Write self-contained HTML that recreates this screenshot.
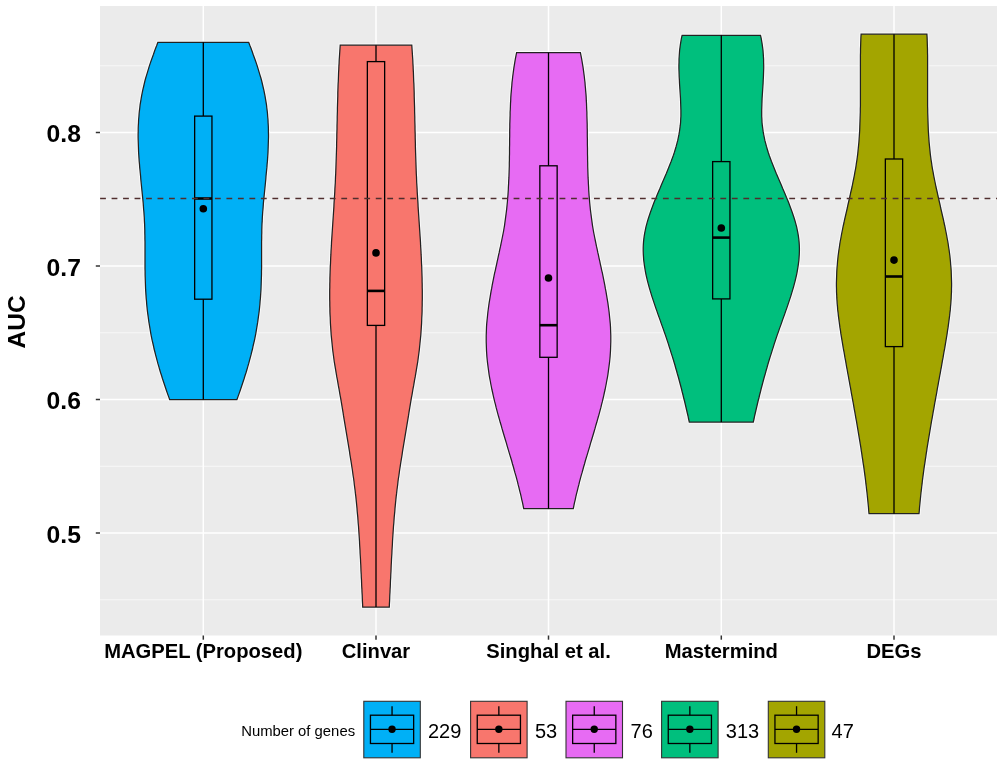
<!DOCTYPE html>
<html><head><meta charset="utf-8"><title>AUC violin plot</title>
<style>html,body{margin:0;padding:0;background:#fff}svg{display:block}text{font-family:"Liberation Sans",Arial,Helvetica,sans-serif;fill:#000}</style></head><body>
<svg width="1003" height="765" viewBox="0 0 1003 765">
<rect width="1003" height="765" fill="#fff"/>
<rect x="100" y="6" width="897" height="629.5" fill="#EBEBEB"/>
<line x1="100" x2="997" y1="65.75" y2="65.75" stroke="#fff" stroke-opacity=".8" stroke-width="0.8"/>
<line x1="100" x2="997" y1="199.25" y2="199.25" stroke="#fff" stroke-opacity=".8" stroke-width="0.8"/>
<line x1="100" x2="997" y1="332.75" y2="332.75" stroke="#fff" stroke-opacity=".8" stroke-width="0.8"/>
<line x1="100" x2="997" y1="466.25" y2="466.25" stroke="#fff" stroke-opacity=".8" stroke-width="0.8"/>
<line x1="100" x2="997" y1="599.75" y2="599.75" stroke="#fff" stroke-opacity=".8" stroke-width="0.8"/>
<line x1="100" x2="997" y1="132.50" y2="132.50" stroke="#fff" stroke-width="1.5"/>
<line x1="100" x2="997" y1="266.00" y2="266.00" stroke="#fff" stroke-width="1.5"/>
<line x1="100" x2="997" y1="399.50" y2="399.50" stroke="#fff" stroke-width="1.5"/>
<line x1="100" x2="997" y1="533.00" y2="533.00" stroke="#fff" stroke-width="1.5"/>
<line x1="203.3" x2="203.3" y1="6" y2="635.5" stroke="#fff" stroke-width="1.5"/>
<line x1="376" x2="376" y1="6" y2="635.5" stroke="#fff" stroke-width="1.5"/>
<line x1="548.5" x2="548.5" y1="6" y2="635.5" stroke="#fff" stroke-width="1.5"/>
<line x1="721.3" x2="721.3" y1="6" y2="635.5" stroke="#fff" stroke-width="1.5"/>
<line x1="894" x2="894" y1="6" y2="635.5" stroke="#fff" stroke-width="1.5"/>
<path d="M157.9,42.3 L156.8,45.3 L155.6,48.3 L154.5,51.2 L153.5,54.2 L152.4,57.2 L151.3,60.2 L150.3,63.1 L149.3,66.1 L148.4,69.1 L147.5,72.1 L146.6,75.1 L145.7,78.0 L144.9,81.0 L144.2,84.0 L143.5,87.0 L142.8,89.9 L142.2,92.9 L141.6,95.9 L141.1,98.9 L140.6,101.8 L140.1,104.8 L139.8,107.8 L139.4,110.8 L139.1,113.8 L138.9,116.7 L138.6,119.7 L138.5,122.7 L138.3,125.7 L138.2,128.6 L138.2,131.6 L138.1,134.6 L138.1,137.6 L138.2,140.6 L138.3,143.5 L138.4,146.5 L138.5,149.5 L138.6,152.5 L138.8,155.4 L139.0,158.4 L139.2,161.4 L139.5,164.4 L139.7,167.4 L140.0,170.3 L140.3,173.3 L140.6,176.3 L140.8,179.3 L141.1,182.2 L141.4,185.2 L141.7,188.2 L142.0,191.2 L142.3,194.2 L142.6,197.1 L142.9,200.1 L143.2,203.1 L143.4,206.1 L143.6,209.0 L143.9,212.0 L144.1,215.0 L144.3,218.0 L144.4,220.9 L144.6,223.9 L144.7,226.9 L144.8,229.9 L144.8,232.9 L144.9,235.8 L144.9,238.8 L145.0,241.8 L145.0,244.8 L145.0,247.7 L145.0,250.7 L145.0,253.7 L145.0,256.7 L145.0,259.7 L145.0,262.6 L145.0,265.6 L145.0,268.6 L145.1,271.6 L145.1,274.5 L145.2,277.5 L145.3,280.5 L145.4,283.5 L145.5,286.5 L145.6,289.4 L145.8,292.4 L146.0,295.4 L146.2,298.4 L146.5,301.3 L146.7,304.3 L147.0,307.3 L147.3,310.3 L147.7,313.3 L148.1,316.2 L148.5,319.2 L148.9,322.2 L149.4,325.2 L149.9,328.1 L150.4,331.1 L150.9,334.1 L151.5,337.1 L152.1,340.1 L152.8,343.0 L153.5,346.0 L154.1,349.0 L154.9,352.0 L155.6,354.9 L156.4,357.9 L157.2,360.9 L158.0,363.9 L158.9,366.8 L159.7,369.8 L160.6,372.8 L161.6,375.8 L162.5,378.8 L163.5,381.7 L164.5,384.7 L165.5,387.7 L166.5,390.7 L167.5,393.6 L168.6,396.6 L169.7,399.6 L236.9,399.6 L238.0,396.6 L239.1,393.6 L240.1,390.7 L241.1,387.7 L242.1,384.7 L243.1,381.7 L244.1,378.8 L245.0,375.8 L246.0,372.8 L246.9,369.8 L247.7,366.8 L248.6,363.9 L249.4,360.9 L250.2,357.9 L251.0,354.9 L251.7,352.0 L252.5,349.0 L253.1,346.0 L253.8,343.0 L254.5,340.1 L255.1,337.1 L255.7,334.1 L256.2,331.1 L256.7,328.1 L257.2,325.2 L257.7,322.2 L258.1,319.2 L258.5,316.2 L258.9,313.3 L259.3,310.3 L259.6,307.3 L259.9,304.3 L260.1,301.3 L260.4,298.4 L260.6,295.4 L260.8,292.4 L261.0,289.4 L261.1,286.5 L261.2,283.5 L261.3,280.5 L261.4,277.5 L261.5,274.5 L261.5,271.6 L261.6,268.6 L261.6,265.6 L261.6,262.6 L261.6,259.7 L261.6,256.7 L261.6,253.7 L261.6,250.7 L261.6,247.7 L261.6,244.8 L261.6,241.8 L261.7,238.8 L261.7,235.8 L261.8,232.9 L261.8,229.9 L261.9,226.9 L262.0,223.9 L262.2,220.9 L262.3,218.0 L262.5,215.0 L262.7,212.0 L263.0,209.0 L263.2,206.1 L263.4,203.1 L263.7,200.1 L264.0,197.1 L264.3,194.2 L264.6,191.2 L264.9,188.2 L265.2,185.2 L265.5,182.2 L265.8,179.3 L266.0,176.3 L266.3,173.3 L266.6,170.3 L266.9,167.4 L267.1,164.4 L267.4,161.4 L267.6,158.4 L267.8,155.4 L268.0,152.5 L268.1,149.5 L268.2,146.5 L268.3,143.5 L268.4,140.6 L268.5,137.6 L268.5,134.6 L268.4,131.6 L268.4,128.6 L268.3,125.7 L268.1,122.7 L268.0,119.7 L267.7,116.7 L267.5,113.8 L267.2,110.8 L266.8,107.8 L266.5,104.8 L266.0,101.8 L265.5,98.9 L265.0,95.9 L264.4,92.9 L263.8,89.9 L263.1,87.0 L262.4,84.0 L261.7,81.0 L260.9,78.0 L260.0,75.1 L259.1,72.1 L258.2,69.1 L257.3,66.1 L256.3,63.1 L255.3,60.2 L254.2,57.2 L253.1,54.2 L252.1,51.2 L251.0,48.3 L249.8,45.3 L248.7,42.3Z" fill="none" stroke="#fff" stroke-opacity=".75" stroke-width="3.2" stroke-linejoin="miter"/>
<path d="M157.9,42.3 L156.8,45.3 L155.6,48.3 L154.5,51.2 L153.5,54.2 L152.4,57.2 L151.3,60.2 L150.3,63.1 L149.3,66.1 L148.4,69.1 L147.5,72.1 L146.6,75.1 L145.7,78.0 L144.9,81.0 L144.2,84.0 L143.5,87.0 L142.8,89.9 L142.2,92.9 L141.6,95.9 L141.1,98.9 L140.6,101.8 L140.1,104.8 L139.8,107.8 L139.4,110.8 L139.1,113.8 L138.9,116.7 L138.6,119.7 L138.5,122.7 L138.3,125.7 L138.2,128.6 L138.2,131.6 L138.1,134.6 L138.1,137.6 L138.2,140.6 L138.3,143.5 L138.4,146.5 L138.5,149.5 L138.6,152.5 L138.8,155.4 L139.0,158.4 L139.2,161.4 L139.5,164.4 L139.7,167.4 L140.0,170.3 L140.3,173.3 L140.6,176.3 L140.8,179.3 L141.1,182.2 L141.4,185.2 L141.7,188.2 L142.0,191.2 L142.3,194.2 L142.6,197.1 L142.9,200.1 L143.2,203.1 L143.4,206.1 L143.6,209.0 L143.9,212.0 L144.1,215.0 L144.3,218.0 L144.4,220.9 L144.6,223.9 L144.7,226.9 L144.8,229.9 L144.8,232.9 L144.9,235.8 L144.9,238.8 L145.0,241.8 L145.0,244.8 L145.0,247.7 L145.0,250.7 L145.0,253.7 L145.0,256.7 L145.0,259.7 L145.0,262.6 L145.0,265.6 L145.0,268.6 L145.1,271.6 L145.1,274.5 L145.2,277.5 L145.3,280.5 L145.4,283.5 L145.5,286.5 L145.6,289.4 L145.8,292.4 L146.0,295.4 L146.2,298.4 L146.5,301.3 L146.7,304.3 L147.0,307.3 L147.3,310.3 L147.7,313.3 L148.1,316.2 L148.5,319.2 L148.9,322.2 L149.4,325.2 L149.9,328.1 L150.4,331.1 L150.9,334.1 L151.5,337.1 L152.1,340.1 L152.8,343.0 L153.5,346.0 L154.1,349.0 L154.9,352.0 L155.6,354.9 L156.4,357.9 L157.2,360.9 L158.0,363.9 L158.9,366.8 L159.7,369.8 L160.6,372.8 L161.6,375.8 L162.5,378.8 L163.5,381.7 L164.5,384.7 L165.5,387.7 L166.5,390.7 L167.5,393.6 L168.6,396.6 L169.7,399.6 L236.9,399.6 L238.0,396.6 L239.1,393.6 L240.1,390.7 L241.1,387.7 L242.1,384.7 L243.1,381.7 L244.1,378.8 L245.0,375.8 L246.0,372.8 L246.9,369.8 L247.7,366.8 L248.6,363.9 L249.4,360.9 L250.2,357.9 L251.0,354.9 L251.7,352.0 L252.5,349.0 L253.1,346.0 L253.8,343.0 L254.5,340.1 L255.1,337.1 L255.7,334.1 L256.2,331.1 L256.7,328.1 L257.2,325.2 L257.7,322.2 L258.1,319.2 L258.5,316.2 L258.9,313.3 L259.3,310.3 L259.6,307.3 L259.9,304.3 L260.1,301.3 L260.4,298.4 L260.6,295.4 L260.8,292.4 L261.0,289.4 L261.1,286.5 L261.2,283.5 L261.3,280.5 L261.4,277.5 L261.5,274.5 L261.5,271.6 L261.6,268.6 L261.6,265.6 L261.6,262.6 L261.6,259.7 L261.6,256.7 L261.6,253.7 L261.6,250.7 L261.6,247.7 L261.6,244.8 L261.6,241.8 L261.7,238.8 L261.7,235.8 L261.8,232.9 L261.8,229.9 L261.9,226.9 L262.0,223.9 L262.2,220.9 L262.3,218.0 L262.5,215.0 L262.7,212.0 L263.0,209.0 L263.2,206.1 L263.4,203.1 L263.7,200.1 L264.0,197.1 L264.3,194.2 L264.6,191.2 L264.9,188.2 L265.2,185.2 L265.5,182.2 L265.8,179.3 L266.0,176.3 L266.3,173.3 L266.6,170.3 L266.9,167.4 L267.1,164.4 L267.4,161.4 L267.6,158.4 L267.8,155.4 L268.0,152.5 L268.1,149.5 L268.2,146.5 L268.3,143.5 L268.4,140.6 L268.5,137.6 L268.5,134.6 L268.4,131.6 L268.4,128.6 L268.3,125.7 L268.1,122.7 L268.0,119.7 L267.7,116.7 L267.5,113.8 L267.2,110.8 L266.8,107.8 L266.5,104.8 L266.0,101.8 L265.5,98.9 L265.0,95.9 L264.4,92.9 L263.8,89.9 L263.1,87.0 L262.4,84.0 L261.7,81.0 L260.9,78.0 L260.0,75.1 L259.1,72.1 L258.2,69.1 L257.3,66.1 L256.3,63.1 L255.3,60.2 L254.2,57.2 L253.1,54.2 L252.1,51.2 L251.0,48.3 L249.8,45.3 L248.7,42.3Z" fill="#00B0F6" stroke="#222" stroke-width="1.25" stroke-linejoin="miter"/>
<path d="M340.2,45.2 L340.0,48.2 L339.8,51.2 L339.6,54.2 L339.4,57.2 L339.2,60.1 L339.1,63.1 L338.9,66.1 L338.8,69.1 L338.6,72.1 L338.5,75.1 L338.4,78.1 L338.3,81.1 L338.1,84.0 L338.0,87.0 L337.9,90.0 L337.8,93.0 L337.8,96.0 L337.7,99.0 L337.6,102.0 L337.5,105.0 L337.4,108.0 L337.4,110.9 L337.3,113.9 L337.2,116.9 L337.2,119.9 L337.1,122.9 L337.0,125.9 L337.0,128.9 L336.9,131.9 L336.8,134.8 L336.8,137.8 L336.7,140.8 L336.6,143.8 L336.6,146.8 L336.5,149.8 L336.4,152.8 L336.3,155.8 L336.2,158.8 L336.1,161.7 L336.0,164.7 L335.9,167.7 L335.8,170.7 L335.7,173.7 L335.5,176.7 L335.4,179.7 L335.3,182.7 L335.1,185.6 L334.9,188.6 L334.8,191.6 L334.6,194.6 L334.4,197.6 L334.2,200.6 L334.0,203.6 L333.9,206.6 L333.7,209.6 L333.5,212.5 L333.3,215.5 L333.1,218.5 L332.9,221.5 L332.7,224.5 L332.5,227.5 L332.3,230.5 L332.1,233.5 L331.9,236.5 L331.7,239.4 L331.5,242.4 L331.4,245.4 L331.2,248.4 L331.0,251.4 L330.9,254.4 L330.7,257.4 L330.6,260.4 L330.5,263.3 L330.3,266.3 L330.2,269.3 L330.1,272.3 L330.0,275.3 L329.9,278.3 L329.9,281.3 L329.8,284.3 L329.8,287.3 L329.7,290.2 L329.7,293.2 L329.7,296.2 L329.7,299.2 L329.8,302.2 L329.8,305.2 L329.9,308.2 L329.9,311.2 L330.0,314.1 L330.2,317.1 L330.3,320.1 L330.4,323.1 L330.6,326.1 L330.8,329.1 L331.0,332.1 L331.2,335.1 L331.5,338.1 L331.8,341.0 L332.1,344.0 L332.4,347.0 L332.7,350.0 L333.1,353.0 L333.5,356.0 L333.9,359.0 L334.3,362.0 L334.8,364.9 L335.3,367.9 L335.8,370.9 L336.3,373.9 L336.8,376.9 L337.4,379.9 L337.9,382.9 L338.4,385.9 L339.0,388.9 L339.5,391.8 L340.0,394.8 L340.6,397.8 L341.1,400.8 L341.6,403.8 L342.1,406.8 L342.6,409.8 L343.1,412.8 L343.5,415.7 L344.0,418.7 L344.5,421.7 L345.0,424.7 L345.5,427.7 L346.0,430.7 L346.5,433.7 L347.0,436.7 L347.5,439.7 L348.0,442.6 L348.5,445.6 L349.0,448.6 L349.5,451.6 L349.9,454.6 L350.4,457.6 L350.9,460.6 L351.4,463.6 L351.8,466.5 L352.3,469.5 L352.7,472.5 L353.1,475.5 L353.6,478.5 L354.0,481.5 L354.3,484.5 L354.7,487.5 L355.1,490.5 L355.4,493.4 L355.8,496.4 L356.1,499.4 L356.4,502.4 L356.7,505.4 L357.0,508.4 L357.2,511.4 L357.5,514.4 L357.8,517.4 L358.0,520.3 L358.2,523.3 L358.5,526.3 L358.7,529.3 L358.9,532.3 L359.1,535.3 L359.3,538.3 L359.5,541.3 L359.6,544.2 L359.8,547.2 L360.0,550.2 L360.1,553.2 L360.3,556.2 L360.5,559.2 L360.6,562.2 L360.8,565.2 L360.9,568.2 L361.0,571.1 L361.2,574.1 L361.3,577.1 L361.5,580.1 L361.6,583.1 L361.7,586.1 L361.9,589.1 L362.0,592.1 L362.2,595.0 L362.3,598.0 L362.4,601.0 L362.6,604.0 L362.7,607.0 L389.3,607.0 L389.4,604.0 L389.6,601.0 L389.7,598.0 L389.8,595.0 L390.0,592.1 L390.1,589.1 L390.3,586.1 L390.4,583.1 L390.5,580.1 L390.7,577.1 L390.8,574.1 L391.0,571.1 L391.1,568.2 L391.2,565.2 L391.4,562.2 L391.5,559.2 L391.7,556.2 L391.9,553.2 L392.0,550.2 L392.2,547.2 L392.4,544.2 L392.5,541.3 L392.7,538.3 L392.9,535.3 L393.1,532.3 L393.3,529.3 L393.5,526.3 L393.8,523.3 L394.0,520.3 L394.2,517.4 L394.5,514.4 L394.8,511.4 L395.0,508.4 L395.3,505.4 L395.6,502.4 L395.9,499.4 L396.2,496.4 L396.6,493.4 L396.9,490.5 L397.3,487.5 L397.7,484.5 L398.0,481.5 L398.4,478.5 L398.9,475.5 L399.3,472.5 L399.7,469.5 L400.2,466.5 L400.6,463.6 L401.1,460.6 L401.6,457.6 L402.1,454.6 L402.5,451.6 L403.0,448.6 L403.5,445.6 L404.0,442.6 L404.5,439.7 L405.0,436.7 L405.5,433.7 L406.0,430.7 L406.5,427.7 L407.0,424.7 L407.5,421.7 L408.0,418.7 L408.5,415.7 L408.9,412.8 L409.4,409.8 L409.9,406.8 L410.4,403.8 L410.9,400.8 L411.4,397.8 L412.0,394.8 L412.5,391.8 L413.0,388.9 L413.6,385.9 L414.1,382.9 L414.6,379.9 L415.2,376.9 L415.7,373.9 L416.2,370.9 L416.7,367.9 L417.2,364.9 L417.7,362.0 L418.1,359.0 L418.5,356.0 L418.9,353.0 L419.3,350.0 L419.6,347.0 L419.9,344.0 L420.2,341.0 L420.5,338.1 L420.8,335.1 L421.0,332.1 L421.2,329.1 L421.4,326.1 L421.6,323.1 L421.7,320.1 L421.8,317.1 L422.0,314.1 L422.1,311.2 L422.1,308.2 L422.2,305.2 L422.2,302.2 L422.3,299.2 L422.3,296.2 L422.3,293.2 L422.3,290.2 L422.2,287.3 L422.2,284.3 L422.1,281.3 L422.1,278.3 L422.0,275.3 L421.9,272.3 L421.8,269.3 L421.7,266.3 L421.5,263.3 L421.4,260.4 L421.3,257.4 L421.1,254.4 L421.0,251.4 L420.8,248.4 L420.6,245.4 L420.5,242.4 L420.3,239.4 L420.1,236.5 L419.9,233.5 L419.7,230.5 L419.5,227.5 L419.3,224.5 L419.1,221.5 L418.9,218.5 L418.7,215.5 L418.5,212.5 L418.3,209.6 L418.1,206.6 L418.0,203.6 L417.8,200.6 L417.6,197.6 L417.4,194.6 L417.2,191.6 L417.1,188.6 L416.9,185.6 L416.7,182.7 L416.6,179.7 L416.5,176.7 L416.3,173.7 L416.2,170.7 L416.1,167.7 L416.0,164.7 L415.9,161.7 L415.8,158.8 L415.7,155.8 L415.6,152.8 L415.5,149.8 L415.4,146.8 L415.4,143.8 L415.3,140.8 L415.2,137.8 L415.2,134.8 L415.1,131.9 L415.0,128.9 L415.0,125.9 L414.9,122.9 L414.8,119.9 L414.8,116.9 L414.7,113.9 L414.6,110.9 L414.6,108.0 L414.5,105.0 L414.4,102.0 L414.3,99.0 L414.2,96.0 L414.2,93.0 L414.1,90.0 L414.0,87.0 L413.9,84.0 L413.7,81.1 L413.6,78.1 L413.5,75.1 L413.4,72.1 L413.2,69.1 L413.1,66.1 L412.9,63.1 L412.8,60.1 L412.6,57.2 L412.4,54.2 L412.2,51.2 L412.0,48.2 L411.8,45.2Z" fill="none" stroke="#fff" stroke-opacity=".75" stroke-width="3.2" stroke-linejoin="miter"/>
<path d="M340.2,45.2 L340.0,48.2 L339.8,51.2 L339.6,54.2 L339.4,57.2 L339.2,60.1 L339.1,63.1 L338.9,66.1 L338.8,69.1 L338.6,72.1 L338.5,75.1 L338.4,78.1 L338.3,81.1 L338.1,84.0 L338.0,87.0 L337.9,90.0 L337.8,93.0 L337.8,96.0 L337.7,99.0 L337.6,102.0 L337.5,105.0 L337.4,108.0 L337.4,110.9 L337.3,113.9 L337.2,116.9 L337.2,119.9 L337.1,122.9 L337.0,125.9 L337.0,128.9 L336.9,131.9 L336.8,134.8 L336.8,137.8 L336.7,140.8 L336.6,143.8 L336.6,146.8 L336.5,149.8 L336.4,152.8 L336.3,155.8 L336.2,158.8 L336.1,161.7 L336.0,164.7 L335.9,167.7 L335.8,170.7 L335.7,173.7 L335.5,176.7 L335.4,179.7 L335.3,182.7 L335.1,185.6 L334.9,188.6 L334.8,191.6 L334.6,194.6 L334.4,197.6 L334.2,200.6 L334.0,203.6 L333.9,206.6 L333.7,209.6 L333.5,212.5 L333.3,215.5 L333.1,218.5 L332.9,221.5 L332.7,224.5 L332.5,227.5 L332.3,230.5 L332.1,233.5 L331.9,236.5 L331.7,239.4 L331.5,242.4 L331.4,245.4 L331.2,248.4 L331.0,251.4 L330.9,254.4 L330.7,257.4 L330.6,260.4 L330.5,263.3 L330.3,266.3 L330.2,269.3 L330.1,272.3 L330.0,275.3 L329.9,278.3 L329.9,281.3 L329.8,284.3 L329.8,287.3 L329.7,290.2 L329.7,293.2 L329.7,296.2 L329.7,299.2 L329.8,302.2 L329.8,305.2 L329.9,308.2 L329.9,311.2 L330.0,314.1 L330.2,317.1 L330.3,320.1 L330.4,323.1 L330.6,326.1 L330.8,329.1 L331.0,332.1 L331.2,335.1 L331.5,338.1 L331.8,341.0 L332.1,344.0 L332.4,347.0 L332.7,350.0 L333.1,353.0 L333.5,356.0 L333.9,359.0 L334.3,362.0 L334.8,364.9 L335.3,367.9 L335.8,370.9 L336.3,373.9 L336.8,376.9 L337.4,379.9 L337.9,382.9 L338.4,385.9 L339.0,388.9 L339.5,391.8 L340.0,394.8 L340.6,397.8 L341.1,400.8 L341.6,403.8 L342.1,406.8 L342.6,409.8 L343.1,412.8 L343.5,415.7 L344.0,418.7 L344.5,421.7 L345.0,424.7 L345.5,427.7 L346.0,430.7 L346.5,433.7 L347.0,436.7 L347.5,439.7 L348.0,442.6 L348.5,445.6 L349.0,448.6 L349.5,451.6 L349.9,454.6 L350.4,457.6 L350.9,460.6 L351.4,463.6 L351.8,466.5 L352.3,469.5 L352.7,472.5 L353.1,475.5 L353.6,478.5 L354.0,481.5 L354.3,484.5 L354.7,487.5 L355.1,490.5 L355.4,493.4 L355.8,496.4 L356.1,499.4 L356.4,502.4 L356.7,505.4 L357.0,508.4 L357.2,511.4 L357.5,514.4 L357.8,517.4 L358.0,520.3 L358.2,523.3 L358.5,526.3 L358.7,529.3 L358.9,532.3 L359.1,535.3 L359.3,538.3 L359.5,541.3 L359.6,544.2 L359.8,547.2 L360.0,550.2 L360.1,553.2 L360.3,556.2 L360.5,559.2 L360.6,562.2 L360.8,565.2 L360.9,568.2 L361.0,571.1 L361.2,574.1 L361.3,577.1 L361.5,580.1 L361.6,583.1 L361.7,586.1 L361.9,589.1 L362.0,592.1 L362.2,595.0 L362.3,598.0 L362.4,601.0 L362.6,604.0 L362.7,607.0 L389.3,607.0 L389.4,604.0 L389.6,601.0 L389.7,598.0 L389.8,595.0 L390.0,592.1 L390.1,589.1 L390.3,586.1 L390.4,583.1 L390.5,580.1 L390.7,577.1 L390.8,574.1 L391.0,571.1 L391.1,568.2 L391.2,565.2 L391.4,562.2 L391.5,559.2 L391.7,556.2 L391.9,553.2 L392.0,550.2 L392.2,547.2 L392.4,544.2 L392.5,541.3 L392.7,538.3 L392.9,535.3 L393.1,532.3 L393.3,529.3 L393.5,526.3 L393.8,523.3 L394.0,520.3 L394.2,517.4 L394.5,514.4 L394.8,511.4 L395.0,508.4 L395.3,505.4 L395.6,502.4 L395.9,499.4 L396.2,496.4 L396.6,493.4 L396.9,490.5 L397.3,487.5 L397.7,484.5 L398.0,481.5 L398.4,478.5 L398.9,475.5 L399.3,472.5 L399.7,469.5 L400.2,466.5 L400.6,463.6 L401.1,460.6 L401.6,457.6 L402.1,454.6 L402.5,451.6 L403.0,448.6 L403.5,445.6 L404.0,442.6 L404.5,439.7 L405.0,436.7 L405.5,433.7 L406.0,430.7 L406.5,427.7 L407.0,424.7 L407.5,421.7 L408.0,418.7 L408.5,415.7 L408.9,412.8 L409.4,409.8 L409.9,406.8 L410.4,403.8 L410.9,400.8 L411.4,397.8 L412.0,394.8 L412.5,391.8 L413.0,388.9 L413.6,385.9 L414.1,382.9 L414.6,379.9 L415.2,376.9 L415.7,373.9 L416.2,370.9 L416.7,367.9 L417.2,364.9 L417.7,362.0 L418.1,359.0 L418.5,356.0 L418.9,353.0 L419.3,350.0 L419.6,347.0 L419.9,344.0 L420.2,341.0 L420.5,338.1 L420.8,335.1 L421.0,332.1 L421.2,329.1 L421.4,326.1 L421.6,323.1 L421.7,320.1 L421.8,317.1 L422.0,314.1 L422.1,311.2 L422.1,308.2 L422.2,305.2 L422.2,302.2 L422.3,299.2 L422.3,296.2 L422.3,293.2 L422.3,290.2 L422.2,287.3 L422.2,284.3 L422.1,281.3 L422.1,278.3 L422.0,275.3 L421.9,272.3 L421.8,269.3 L421.7,266.3 L421.5,263.3 L421.4,260.4 L421.3,257.4 L421.1,254.4 L421.0,251.4 L420.8,248.4 L420.6,245.4 L420.5,242.4 L420.3,239.4 L420.1,236.5 L419.9,233.5 L419.7,230.5 L419.5,227.5 L419.3,224.5 L419.1,221.5 L418.9,218.5 L418.7,215.5 L418.5,212.5 L418.3,209.6 L418.1,206.6 L418.0,203.6 L417.8,200.6 L417.6,197.6 L417.4,194.6 L417.2,191.6 L417.1,188.6 L416.9,185.6 L416.7,182.7 L416.6,179.7 L416.5,176.7 L416.3,173.7 L416.2,170.7 L416.1,167.7 L416.0,164.7 L415.9,161.7 L415.8,158.8 L415.7,155.8 L415.6,152.8 L415.5,149.8 L415.4,146.8 L415.4,143.8 L415.3,140.8 L415.2,137.8 L415.2,134.8 L415.1,131.9 L415.0,128.9 L415.0,125.9 L414.9,122.9 L414.8,119.9 L414.8,116.9 L414.7,113.9 L414.6,110.9 L414.6,108.0 L414.5,105.0 L414.4,102.0 L414.3,99.0 L414.2,96.0 L414.2,93.0 L414.1,90.0 L414.0,87.0 L413.9,84.0 L413.7,81.1 L413.6,78.1 L413.5,75.1 L413.4,72.1 L413.2,69.1 L413.1,66.1 L412.9,63.1 L412.8,60.1 L412.6,57.2 L412.4,54.2 L412.2,51.2 L412.0,48.2 L411.8,45.2Z" fill="#F8766D" stroke="#222" stroke-width="1.25" stroke-linejoin="miter"/>
<path d="M516.6,52.7 L516.0,55.7 L515.4,58.7 L514.9,61.6 L514.4,64.6 L513.9,67.6 L513.5,70.6 L513.1,73.6 L512.7,76.5 L512.4,79.5 L512.0,82.5 L511.8,85.5 L511.5,88.5 L511.3,91.4 L511.0,94.4 L510.8,97.4 L510.7,100.4 L510.5,103.4 L510.4,106.3 L510.3,109.3 L510.1,112.3 L510.1,115.3 L510.0,118.3 L509.9,121.2 L509.8,124.2 L509.8,127.2 L509.7,130.2 L509.7,133.2 L509.7,136.2 L509.6,139.1 L509.6,142.1 L509.6,145.1 L509.5,148.1 L509.5,151.1 L509.5,154.0 L509.4,157.0 L509.4,160.0 L509.3,163.0 L509.3,166.0 L509.2,168.9 L509.1,171.9 L509.0,174.9 L508.9,177.9 L508.7,180.9 L508.6,183.8 L508.4,186.8 L508.3,189.8 L508.1,192.8 L507.9,195.8 L507.6,198.7 L507.4,201.7 L507.1,204.7 L506.8,207.7 L506.5,210.7 L506.1,213.6 L505.7,216.6 L505.3,219.6 L504.9,222.6 L504.5,225.6 L504.0,228.5 L503.5,231.5 L502.9,234.5 L502.3,237.5 L501.7,240.5 L501.1,243.4 L500.5,246.4 L499.8,249.4 L499.2,252.4 L498.5,255.4 L497.9,258.3 L497.2,261.3 L496.6,264.3 L495.9,267.3 L495.3,270.3 L494.6,273.2 L494.0,276.2 L493.4,279.2 L492.8,282.2 L492.2,285.2 L491.7,288.2 L491.1,291.1 L490.6,294.1 L490.1,297.1 L489.6,300.1 L489.1,303.1 L488.7,306.0 L488.3,309.0 L487.9,312.0 L487.6,315.0 L487.3,318.0 L487.0,320.9 L486.7,323.9 L486.5,326.9 L486.4,329.9 L486.3,332.9 L486.2,335.8 L486.2,338.8 L486.2,341.8 L486.3,344.8 L486.4,347.8 L486.5,350.7 L486.7,353.7 L486.9,356.7 L487.2,359.7 L487.5,362.7 L487.9,365.6 L488.3,368.6 L488.7,371.6 L489.1,374.6 L489.6,377.6 L490.2,380.5 L490.7,383.5 L491.3,386.5 L491.9,389.5 L492.6,392.5 L493.2,395.4 L493.9,398.4 L494.6,401.4 L495.4,404.4 L496.1,407.4 L496.9,410.3 L497.7,413.3 L498.5,416.3 L499.4,419.3 L500.2,422.3 L501.1,425.2 L501.9,428.2 L502.8,431.2 L503.7,434.2 L504.6,437.2 L505.5,440.2 L506.4,443.1 L507.2,446.1 L508.1,449.1 L509.0,452.1 L509.9,455.1 L510.8,458.0 L511.7,461.0 L512.5,464.0 L513.4,467.0 L514.2,470.0 L515.0,472.9 L515.9,475.9 L516.7,478.9 L517.5,481.9 L518.2,484.9 L519.0,487.8 L519.7,490.8 L520.5,493.8 L521.2,496.8 L521.8,499.8 L522.5,502.7 L523.1,505.7 L523.7,508.7 L573.3,508.7 L573.9,505.7 L574.5,502.7 L575.2,499.8 L575.8,496.8 L576.5,493.8 L577.3,490.8 L578.0,487.8 L578.8,484.9 L579.5,481.9 L580.3,478.9 L581.1,475.9 L582.0,472.9 L582.8,470.0 L583.6,467.0 L584.5,464.0 L585.3,461.0 L586.2,458.0 L587.1,455.1 L588.0,452.1 L588.9,449.1 L589.8,446.1 L590.6,443.1 L591.5,440.2 L592.4,437.2 L593.3,434.2 L594.2,431.2 L595.1,428.2 L595.9,425.2 L596.8,422.3 L597.6,419.3 L598.5,416.3 L599.3,413.3 L600.1,410.3 L600.9,407.4 L601.6,404.4 L602.4,401.4 L603.1,398.4 L603.8,395.4 L604.4,392.5 L605.1,389.5 L605.7,386.5 L606.3,383.5 L606.8,380.5 L607.4,377.6 L607.9,374.6 L608.3,371.6 L608.7,368.6 L609.1,365.6 L609.5,362.7 L609.8,359.7 L610.1,356.7 L610.3,353.7 L610.5,350.7 L610.6,347.8 L610.7,344.8 L610.8,341.8 L610.8,338.8 L610.8,335.8 L610.7,332.9 L610.6,329.9 L610.5,326.9 L610.3,323.9 L610.0,320.9 L609.7,318.0 L609.4,315.0 L609.1,312.0 L608.7,309.0 L608.3,306.0 L607.9,303.1 L607.4,300.1 L606.9,297.1 L606.4,294.1 L605.9,291.1 L605.3,288.2 L604.8,285.2 L604.2,282.2 L603.6,279.2 L603.0,276.2 L602.4,273.2 L601.7,270.3 L601.1,267.3 L600.4,264.3 L599.8,261.3 L599.1,258.3 L598.5,255.4 L597.8,252.4 L597.2,249.4 L596.5,246.4 L595.9,243.4 L595.3,240.5 L594.7,237.5 L594.1,234.5 L593.5,231.5 L593.0,228.5 L592.5,225.6 L592.1,222.6 L591.7,219.6 L591.3,216.6 L590.9,213.6 L590.5,210.7 L590.2,207.7 L589.9,204.7 L589.6,201.7 L589.4,198.7 L589.1,195.8 L588.9,192.8 L588.7,189.8 L588.6,186.8 L588.4,183.8 L588.3,180.9 L588.1,177.9 L588.0,174.9 L587.9,171.9 L587.8,168.9 L587.7,166.0 L587.7,163.0 L587.6,160.0 L587.6,157.0 L587.5,154.0 L587.5,151.1 L587.5,148.1 L587.4,145.1 L587.4,142.1 L587.4,139.1 L587.3,136.2 L587.3,133.2 L587.3,130.2 L587.2,127.2 L587.2,124.2 L587.1,121.2 L587.0,118.3 L586.9,115.3 L586.9,112.3 L586.7,109.3 L586.6,106.3 L586.5,103.4 L586.3,100.4 L586.2,97.4 L586.0,94.4 L585.7,91.4 L585.5,88.5 L585.2,85.5 L585.0,82.5 L584.6,79.5 L584.3,76.5 L583.9,73.6 L583.5,70.6 L583.1,67.6 L582.6,64.6 L582.1,61.6 L581.6,58.7 L581.0,55.7 L580.4,52.7Z" fill="none" stroke="#fff" stroke-opacity=".75" stroke-width="3.2" stroke-linejoin="miter"/>
<path d="M516.6,52.7 L516.0,55.7 L515.4,58.7 L514.9,61.6 L514.4,64.6 L513.9,67.6 L513.5,70.6 L513.1,73.6 L512.7,76.5 L512.4,79.5 L512.0,82.5 L511.8,85.5 L511.5,88.5 L511.3,91.4 L511.0,94.4 L510.8,97.4 L510.7,100.4 L510.5,103.4 L510.4,106.3 L510.3,109.3 L510.1,112.3 L510.1,115.3 L510.0,118.3 L509.9,121.2 L509.8,124.2 L509.8,127.2 L509.7,130.2 L509.7,133.2 L509.7,136.2 L509.6,139.1 L509.6,142.1 L509.6,145.1 L509.5,148.1 L509.5,151.1 L509.5,154.0 L509.4,157.0 L509.4,160.0 L509.3,163.0 L509.3,166.0 L509.2,168.9 L509.1,171.9 L509.0,174.9 L508.9,177.9 L508.7,180.9 L508.6,183.8 L508.4,186.8 L508.3,189.8 L508.1,192.8 L507.9,195.8 L507.6,198.7 L507.4,201.7 L507.1,204.7 L506.8,207.7 L506.5,210.7 L506.1,213.6 L505.7,216.6 L505.3,219.6 L504.9,222.6 L504.5,225.6 L504.0,228.5 L503.5,231.5 L502.9,234.5 L502.3,237.5 L501.7,240.5 L501.1,243.4 L500.5,246.4 L499.8,249.4 L499.2,252.4 L498.5,255.4 L497.9,258.3 L497.2,261.3 L496.6,264.3 L495.9,267.3 L495.3,270.3 L494.6,273.2 L494.0,276.2 L493.4,279.2 L492.8,282.2 L492.2,285.2 L491.7,288.2 L491.1,291.1 L490.6,294.1 L490.1,297.1 L489.6,300.1 L489.1,303.1 L488.7,306.0 L488.3,309.0 L487.9,312.0 L487.6,315.0 L487.3,318.0 L487.0,320.9 L486.7,323.9 L486.5,326.9 L486.4,329.9 L486.3,332.9 L486.2,335.8 L486.2,338.8 L486.2,341.8 L486.3,344.8 L486.4,347.8 L486.5,350.7 L486.7,353.7 L486.9,356.7 L487.2,359.7 L487.5,362.7 L487.9,365.6 L488.3,368.6 L488.7,371.6 L489.1,374.6 L489.6,377.6 L490.2,380.5 L490.7,383.5 L491.3,386.5 L491.9,389.5 L492.6,392.5 L493.2,395.4 L493.9,398.4 L494.6,401.4 L495.4,404.4 L496.1,407.4 L496.9,410.3 L497.7,413.3 L498.5,416.3 L499.4,419.3 L500.2,422.3 L501.1,425.2 L501.9,428.2 L502.8,431.2 L503.7,434.2 L504.6,437.2 L505.5,440.2 L506.4,443.1 L507.2,446.1 L508.1,449.1 L509.0,452.1 L509.9,455.1 L510.8,458.0 L511.7,461.0 L512.5,464.0 L513.4,467.0 L514.2,470.0 L515.0,472.9 L515.9,475.9 L516.7,478.9 L517.5,481.9 L518.2,484.9 L519.0,487.8 L519.7,490.8 L520.5,493.8 L521.2,496.8 L521.8,499.8 L522.5,502.7 L523.1,505.7 L523.7,508.7 L573.3,508.7 L573.9,505.7 L574.5,502.7 L575.2,499.8 L575.8,496.8 L576.5,493.8 L577.3,490.8 L578.0,487.8 L578.8,484.9 L579.5,481.9 L580.3,478.9 L581.1,475.9 L582.0,472.9 L582.8,470.0 L583.6,467.0 L584.5,464.0 L585.3,461.0 L586.2,458.0 L587.1,455.1 L588.0,452.1 L588.9,449.1 L589.8,446.1 L590.6,443.1 L591.5,440.2 L592.4,437.2 L593.3,434.2 L594.2,431.2 L595.1,428.2 L595.9,425.2 L596.8,422.3 L597.6,419.3 L598.5,416.3 L599.3,413.3 L600.1,410.3 L600.9,407.4 L601.6,404.4 L602.4,401.4 L603.1,398.4 L603.8,395.4 L604.4,392.5 L605.1,389.5 L605.7,386.5 L606.3,383.5 L606.8,380.5 L607.4,377.6 L607.9,374.6 L608.3,371.6 L608.7,368.6 L609.1,365.6 L609.5,362.7 L609.8,359.7 L610.1,356.7 L610.3,353.7 L610.5,350.7 L610.6,347.8 L610.7,344.8 L610.8,341.8 L610.8,338.8 L610.8,335.8 L610.7,332.9 L610.6,329.9 L610.5,326.9 L610.3,323.9 L610.0,320.9 L609.7,318.0 L609.4,315.0 L609.1,312.0 L608.7,309.0 L608.3,306.0 L607.9,303.1 L607.4,300.1 L606.9,297.1 L606.4,294.1 L605.9,291.1 L605.3,288.2 L604.8,285.2 L604.2,282.2 L603.6,279.2 L603.0,276.2 L602.4,273.2 L601.7,270.3 L601.1,267.3 L600.4,264.3 L599.8,261.3 L599.1,258.3 L598.5,255.4 L597.8,252.4 L597.2,249.4 L596.5,246.4 L595.9,243.4 L595.3,240.5 L594.7,237.5 L594.1,234.5 L593.5,231.5 L593.0,228.5 L592.5,225.6 L592.1,222.6 L591.7,219.6 L591.3,216.6 L590.9,213.6 L590.5,210.7 L590.2,207.7 L589.9,204.7 L589.6,201.7 L589.4,198.7 L589.1,195.8 L588.9,192.8 L588.7,189.8 L588.6,186.8 L588.4,183.8 L588.3,180.9 L588.1,177.9 L588.0,174.9 L587.9,171.9 L587.8,168.9 L587.7,166.0 L587.7,163.0 L587.6,160.0 L587.6,157.0 L587.5,154.0 L587.5,151.1 L587.5,148.1 L587.4,145.1 L587.4,142.1 L587.4,139.1 L587.3,136.2 L587.3,133.2 L587.3,130.2 L587.2,127.2 L587.2,124.2 L587.1,121.2 L587.0,118.3 L586.9,115.3 L586.9,112.3 L586.7,109.3 L586.6,106.3 L586.5,103.4 L586.3,100.4 L586.2,97.4 L586.0,94.4 L585.7,91.4 L585.5,88.5 L585.2,85.5 L585.0,82.5 L584.6,79.5 L584.3,76.5 L583.9,73.6 L583.5,70.6 L583.1,67.6 L582.6,64.6 L582.1,61.6 L581.6,58.7 L581.0,55.7 L580.4,52.7Z" fill="#E76BF3" stroke="#222" stroke-width="1.25" stroke-linejoin="miter"/>
<path d="M682.1,35.3 L681.4,38.3 L680.9,41.3 L680.4,44.3 L680.0,47.3 L679.6,50.3 L679.4,53.3 L679.2,56.3 L679.0,59.3 L679.0,62.3 L678.9,65.3 L678.9,68.3 L679.0,71.3 L679.1,74.3 L679.2,77.3 L679.4,80.3 L679.5,83.3 L679.7,86.3 L679.9,89.3 L680.1,92.3 L680.3,95.3 L680.5,98.3 L680.6,101.2 L680.7,104.2 L680.8,107.2 L680.9,110.2 L680.9,113.2 L680.9,116.2 L680.7,119.2 L680.6,122.2 L680.3,125.2 L679.9,128.2 L679.5,131.2 L679.0,134.2 L678.4,137.2 L677.8,140.2 L677.0,143.2 L676.2,146.2 L675.3,149.2 L674.4,152.2 L673.4,155.2 L672.3,158.2 L671.2,161.2 L670.0,164.2 L668.8,167.2 L667.6,170.2 L666.4,173.2 L665.1,176.2 L663.8,179.2 L662.5,182.2 L661.2,185.2 L660.0,188.2 L658.7,191.2 L657.4,194.2 L656.2,197.2 L654.9,200.2 L653.7,203.2 L652.6,206.2 L651.5,209.2 L650.4,212.2 L649.4,215.2 L648.4,218.2 L647.5,221.2 L646.7,224.2 L645.9,227.2 L645.3,230.1 L644.7,233.1 L644.2,236.1 L643.8,239.1 L643.5,242.1 L643.3,245.1 L643.2,248.1 L643.2,251.1 L643.3,254.1 L643.5,257.1 L643.7,260.1 L644.1,263.1 L644.5,266.1 L645.0,269.1 L645.5,272.1 L646.1,275.1 L646.8,278.1 L647.5,281.1 L648.3,284.1 L649.1,287.1 L650.0,290.1 L650.9,293.1 L651.8,296.1 L652.8,299.1 L653.8,302.1 L654.8,305.1 L655.8,308.1 L656.9,311.1 L657.9,314.1 L659.0,317.1 L660.1,320.1 L661.1,323.1 L662.2,326.1 L663.3,329.1 L664.3,332.1 L665.4,335.1 L666.4,338.1 L667.4,341.1 L668.4,344.1 L669.3,347.1 L670.3,350.1 L671.2,353.1 L672.2,356.1 L673.1,359.0 L674.0,362.0 L674.9,365.0 L675.7,368.0 L676.6,371.0 L677.4,374.0 L678.3,377.0 L679.1,380.0 L679.9,383.0 L680.7,386.0 L681.5,389.0 L682.2,392.0 L683.0,395.0 L683.7,398.0 L684.5,401.0 L685.2,404.0 L685.9,407.0 L686.6,410.0 L687.3,413.0 L688.0,416.0 L688.6,419.0 L689.3,422.0 L753.3,422.0 L754.0,419.0 L754.6,416.0 L755.3,413.0 L756.0,410.0 L756.7,407.0 L757.4,404.0 L758.1,401.0 L758.9,398.0 L759.6,395.0 L760.4,392.0 L761.1,389.0 L761.9,386.0 L762.7,383.0 L763.5,380.0 L764.3,377.0 L765.2,374.0 L766.0,371.0 L766.9,368.0 L767.7,365.0 L768.6,362.0 L769.5,359.0 L770.4,356.1 L771.4,353.1 L772.3,350.1 L773.3,347.1 L774.2,344.1 L775.2,341.1 L776.2,338.1 L777.2,335.1 L778.3,332.1 L779.3,329.1 L780.4,326.1 L781.5,323.1 L782.5,320.1 L783.6,317.1 L784.7,314.1 L785.7,311.1 L786.8,308.1 L787.8,305.1 L788.8,302.1 L789.8,299.1 L790.8,296.1 L791.7,293.1 L792.6,290.1 L793.5,287.1 L794.3,284.1 L795.1,281.1 L795.8,278.1 L796.5,275.1 L797.1,272.1 L797.6,269.1 L798.1,266.1 L798.5,263.1 L798.9,260.1 L799.1,257.1 L799.3,254.1 L799.4,251.1 L799.4,248.1 L799.3,245.1 L799.1,242.1 L798.8,239.1 L798.4,236.1 L797.9,233.1 L797.3,230.1 L796.7,227.2 L795.9,224.2 L795.1,221.2 L794.2,218.2 L793.2,215.2 L792.2,212.2 L791.1,209.2 L790.0,206.2 L788.9,203.2 L787.7,200.2 L786.4,197.2 L785.2,194.2 L783.9,191.2 L782.6,188.2 L781.4,185.2 L780.1,182.2 L778.8,179.2 L777.5,176.2 L776.2,173.2 L775.0,170.2 L773.8,167.2 L772.6,164.2 L771.4,161.2 L770.3,158.2 L769.2,155.2 L768.2,152.2 L767.3,149.2 L766.4,146.2 L765.6,143.2 L764.8,140.2 L764.2,137.2 L763.6,134.2 L763.1,131.2 L762.7,128.2 L762.3,125.2 L762.0,122.2 L761.9,119.2 L761.7,116.2 L761.7,113.2 L761.7,110.2 L761.8,107.2 L761.9,104.2 L762.0,101.2 L762.1,98.3 L762.3,95.3 L762.5,92.3 L762.7,89.3 L762.9,86.3 L763.1,83.3 L763.2,80.3 L763.4,77.3 L763.5,74.3 L763.6,71.3 L763.7,68.3 L763.7,65.3 L763.6,62.3 L763.6,59.3 L763.4,56.3 L763.2,53.3 L763.0,50.3 L762.6,47.3 L762.2,44.3 L761.7,41.3 L761.2,38.3 L760.5,35.3Z" fill="none" stroke="#fff" stroke-opacity=".75" stroke-width="3.2" stroke-linejoin="miter"/>
<path d="M682.1,35.3 L681.4,38.3 L680.9,41.3 L680.4,44.3 L680.0,47.3 L679.6,50.3 L679.4,53.3 L679.2,56.3 L679.0,59.3 L679.0,62.3 L678.9,65.3 L678.9,68.3 L679.0,71.3 L679.1,74.3 L679.2,77.3 L679.4,80.3 L679.5,83.3 L679.7,86.3 L679.9,89.3 L680.1,92.3 L680.3,95.3 L680.5,98.3 L680.6,101.2 L680.7,104.2 L680.8,107.2 L680.9,110.2 L680.9,113.2 L680.9,116.2 L680.7,119.2 L680.6,122.2 L680.3,125.2 L679.9,128.2 L679.5,131.2 L679.0,134.2 L678.4,137.2 L677.8,140.2 L677.0,143.2 L676.2,146.2 L675.3,149.2 L674.4,152.2 L673.4,155.2 L672.3,158.2 L671.2,161.2 L670.0,164.2 L668.8,167.2 L667.6,170.2 L666.4,173.2 L665.1,176.2 L663.8,179.2 L662.5,182.2 L661.2,185.2 L660.0,188.2 L658.7,191.2 L657.4,194.2 L656.2,197.2 L654.9,200.2 L653.7,203.2 L652.6,206.2 L651.5,209.2 L650.4,212.2 L649.4,215.2 L648.4,218.2 L647.5,221.2 L646.7,224.2 L645.9,227.2 L645.3,230.1 L644.7,233.1 L644.2,236.1 L643.8,239.1 L643.5,242.1 L643.3,245.1 L643.2,248.1 L643.2,251.1 L643.3,254.1 L643.5,257.1 L643.7,260.1 L644.1,263.1 L644.5,266.1 L645.0,269.1 L645.5,272.1 L646.1,275.1 L646.8,278.1 L647.5,281.1 L648.3,284.1 L649.1,287.1 L650.0,290.1 L650.9,293.1 L651.8,296.1 L652.8,299.1 L653.8,302.1 L654.8,305.1 L655.8,308.1 L656.9,311.1 L657.9,314.1 L659.0,317.1 L660.1,320.1 L661.1,323.1 L662.2,326.1 L663.3,329.1 L664.3,332.1 L665.4,335.1 L666.4,338.1 L667.4,341.1 L668.4,344.1 L669.3,347.1 L670.3,350.1 L671.2,353.1 L672.2,356.1 L673.1,359.0 L674.0,362.0 L674.9,365.0 L675.7,368.0 L676.6,371.0 L677.4,374.0 L678.3,377.0 L679.1,380.0 L679.9,383.0 L680.7,386.0 L681.5,389.0 L682.2,392.0 L683.0,395.0 L683.7,398.0 L684.5,401.0 L685.2,404.0 L685.9,407.0 L686.6,410.0 L687.3,413.0 L688.0,416.0 L688.6,419.0 L689.3,422.0 L753.3,422.0 L754.0,419.0 L754.6,416.0 L755.3,413.0 L756.0,410.0 L756.7,407.0 L757.4,404.0 L758.1,401.0 L758.9,398.0 L759.6,395.0 L760.4,392.0 L761.1,389.0 L761.9,386.0 L762.7,383.0 L763.5,380.0 L764.3,377.0 L765.2,374.0 L766.0,371.0 L766.9,368.0 L767.7,365.0 L768.6,362.0 L769.5,359.0 L770.4,356.1 L771.4,353.1 L772.3,350.1 L773.3,347.1 L774.2,344.1 L775.2,341.1 L776.2,338.1 L777.2,335.1 L778.3,332.1 L779.3,329.1 L780.4,326.1 L781.5,323.1 L782.5,320.1 L783.6,317.1 L784.7,314.1 L785.7,311.1 L786.8,308.1 L787.8,305.1 L788.8,302.1 L789.8,299.1 L790.8,296.1 L791.7,293.1 L792.6,290.1 L793.5,287.1 L794.3,284.1 L795.1,281.1 L795.8,278.1 L796.5,275.1 L797.1,272.1 L797.6,269.1 L798.1,266.1 L798.5,263.1 L798.9,260.1 L799.1,257.1 L799.3,254.1 L799.4,251.1 L799.4,248.1 L799.3,245.1 L799.1,242.1 L798.8,239.1 L798.4,236.1 L797.9,233.1 L797.3,230.1 L796.7,227.2 L795.9,224.2 L795.1,221.2 L794.2,218.2 L793.2,215.2 L792.2,212.2 L791.1,209.2 L790.0,206.2 L788.9,203.2 L787.7,200.2 L786.4,197.2 L785.2,194.2 L783.9,191.2 L782.6,188.2 L781.4,185.2 L780.1,182.2 L778.8,179.2 L777.5,176.2 L776.2,173.2 L775.0,170.2 L773.8,167.2 L772.6,164.2 L771.4,161.2 L770.3,158.2 L769.2,155.2 L768.2,152.2 L767.3,149.2 L766.4,146.2 L765.6,143.2 L764.8,140.2 L764.2,137.2 L763.6,134.2 L763.1,131.2 L762.7,128.2 L762.3,125.2 L762.0,122.2 L761.9,119.2 L761.7,116.2 L761.7,113.2 L761.7,110.2 L761.8,107.2 L761.9,104.2 L762.0,101.2 L762.1,98.3 L762.3,95.3 L762.5,92.3 L762.7,89.3 L762.9,86.3 L763.1,83.3 L763.2,80.3 L763.4,77.3 L763.5,74.3 L763.6,71.3 L763.7,68.3 L763.7,65.3 L763.6,62.3 L763.6,59.3 L763.4,56.3 L763.2,53.3 L763.0,50.3 L762.6,47.3 L762.2,44.3 L761.7,41.3 L761.2,38.3 L760.5,35.3Z" fill="#00BF7D" stroke="#222" stroke-width="1.25" stroke-linejoin="miter"/>
<path d="M861.1,34.2 L860.9,37.2 L860.8,40.2 L860.7,43.2 L860.6,46.2 L860.5,49.2 L860.5,52.2 L860.4,55.2 L860.4,58.2 L860.4,61.2 L860.4,64.2 L860.4,67.2 L860.4,70.2 L860.4,73.2 L860.4,76.2 L860.4,79.2 L860.4,82.2 L860.4,85.1 L860.4,88.1 L860.4,91.1 L860.4,94.1 L860.4,97.1 L860.4,100.1 L860.4,103.1 L860.4,106.1 L860.3,109.1 L860.3,112.1 L860.2,115.1 L860.1,118.1 L860.0,121.1 L859.9,124.1 L859.8,127.1 L859.7,130.1 L859.5,133.1 L859.3,136.1 L859.1,139.1 L858.9,142.1 L858.6,145.1 L858.3,148.1 L858.0,151.1 L857.7,154.1 L857.3,157.1 L856.9,160.1 L856.4,163.1 L856.0,166.1 L855.5,169.1 L854.9,172.1 L854.4,175.1 L853.8,178.1 L853.2,181.0 L852.6,184.0 L852.0,187.0 L851.3,190.0 L850.6,193.0 L850.0,196.0 L849.3,199.0 L848.6,202.0 L847.9,205.0 L847.3,208.0 L846.6,211.0 L845.9,214.0 L845.2,217.0 L844.5,220.0 L843.9,223.0 L843.2,226.0 L842.6,229.0 L842.0,232.0 L841.4,235.0 L840.9,238.0 L840.3,241.0 L839.8,244.0 L839.4,247.0 L838.9,250.0 L838.5,253.0 L838.1,256.0 L837.8,259.0 L837.5,262.0 L837.3,265.0 L837.0,268.0 L836.8,271.0 L836.7,273.9 L836.6,276.9 L836.5,279.9 L836.4,282.9 L836.4,285.9 L836.5,288.9 L836.5,291.9 L836.7,294.9 L836.8,297.9 L837.0,300.9 L837.2,303.9 L837.5,306.9 L837.7,309.9 L838.1,312.9 L838.4,315.9 L838.8,318.9 L839.2,321.9 L839.6,324.9 L840.0,327.9 L840.5,330.9 L840.9,333.9 L841.4,336.9 L841.9,339.9 L842.4,342.9 L842.9,345.9 L843.4,348.9 L844.0,351.9 L844.5,354.9 L845.0,357.9 L845.6,360.9 L846.1,363.9 L846.6,366.9 L847.2,369.9 L847.7,372.8 L848.3,375.8 L848.8,378.8 L849.4,381.8 L849.9,384.8 L850.5,387.8 L851.0,390.8 L851.5,393.8 L852.1,396.8 L852.6,399.8 L853.2,402.8 L853.7,405.8 L854.2,408.8 L854.8,411.8 L855.3,414.8 L855.8,417.8 L856.4,420.8 L856.9,423.8 L857.4,426.8 L857.9,429.8 L858.4,432.8 L858.9,435.8 L859.4,438.8 L859.9,441.8 L860.4,444.8 L860.9,447.8 L861.3,450.8 L861.8,453.8 L862.2,456.8 L862.7,459.8 L863.1,462.8 L863.6,465.8 L864.0,468.7 L864.4,471.7 L864.8,474.7 L865.2,477.7 L865.6,480.7 L865.9,483.7 L866.3,486.7 L866.6,489.7 L867.0,492.7 L867.3,495.7 L867.6,498.7 L867.9,501.7 L868.2,504.7 L868.5,507.7 L868.7,510.7 L869.0,513.7 L919.0,513.7 L919.3,510.7 L919.5,507.7 L919.8,504.7 L920.1,501.7 L920.4,498.7 L920.7,495.7 L921.0,492.7 L921.4,489.7 L921.7,486.7 L922.1,483.7 L922.4,480.7 L922.8,477.7 L923.2,474.7 L923.6,471.7 L924.0,468.7 L924.4,465.8 L924.9,462.8 L925.3,459.8 L925.8,456.8 L926.2,453.8 L926.7,450.8 L927.1,447.8 L927.6,444.8 L928.1,441.8 L928.6,438.8 L929.1,435.8 L929.6,432.8 L930.1,429.8 L930.6,426.8 L931.1,423.8 L931.6,420.8 L932.2,417.8 L932.7,414.8 L933.2,411.8 L933.8,408.8 L934.3,405.8 L934.8,402.8 L935.4,399.8 L935.9,396.8 L936.5,393.8 L937.0,390.8 L937.5,387.8 L938.1,384.8 L938.6,381.8 L939.2,378.8 L939.7,375.8 L940.3,372.8 L940.8,369.9 L941.4,366.9 L941.9,363.9 L942.4,360.9 L943.0,357.9 L943.5,354.9 L944.0,351.9 L944.6,348.9 L945.1,345.9 L945.6,342.9 L946.1,339.9 L946.6,336.9 L947.1,333.9 L947.5,330.9 L948.0,327.9 L948.4,324.9 L948.8,321.9 L949.2,318.9 L949.6,315.9 L949.9,312.9 L950.3,309.9 L950.5,306.9 L950.8,303.9 L951.0,300.9 L951.2,297.9 L951.3,294.9 L951.5,291.9 L951.5,288.9 L951.6,285.9 L951.6,282.9 L951.5,279.9 L951.4,276.9 L951.3,273.9 L951.2,271.0 L951.0,268.0 L950.7,265.0 L950.5,262.0 L950.2,259.0 L949.9,256.0 L949.5,253.0 L949.1,250.0 L948.6,247.0 L948.2,244.0 L947.7,241.0 L947.1,238.0 L946.6,235.0 L946.0,232.0 L945.4,229.0 L944.8,226.0 L944.1,223.0 L943.5,220.0 L942.8,217.0 L942.1,214.0 L941.4,211.0 L940.7,208.0 L940.1,205.0 L939.4,202.0 L938.7,199.0 L938.0,196.0 L937.4,193.0 L936.7,190.0 L936.0,187.0 L935.4,184.0 L934.8,181.0 L934.2,178.1 L933.6,175.1 L933.1,172.1 L932.5,169.1 L932.0,166.1 L931.6,163.1 L931.1,160.1 L930.7,157.1 L930.3,154.1 L930.0,151.1 L929.7,148.1 L929.4,145.1 L929.1,142.1 L928.9,139.1 L928.7,136.1 L928.5,133.1 L928.3,130.1 L928.2,127.1 L928.1,124.1 L928.0,121.1 L927.9,118.1 L927.8,115.1 L927.7,112.1 L927.7,109.1 L927.6,106.1 L927.6,103.1 L927.6,100.1 L927.6,97.1 L927.6,94.1 L927.6,91.1 L927.6,88.1 L927.6,85.1 L927.6,82.2 L927.6,79.2 L927.6,76.2 L927.6,73.2 L927.6,70.2 L927.6,67.2 L927.6,64.2 L927.6,61.2 L927.6,58.2 L927.6,55.2 L927.5,52.2 L927.5,49.2 L927.4,46.2 L927.3,43.2 L927.2,40.2 L927.1,37.2 L926.9,34.2Z" fill="none" stroke="#fff" stroke-opacity=".75" stroke-width="3.2" stroke-linejoin="miter"/>
<path d="M861.1,34.2 L860.9,37.2 L860.8,40.2 L860.7,43.2 L860.6,46.2 L860.5,49.2 L860.5,52.2 L860.4,55.2 L860.4,58.2 L860.4,61.2 L860.4,64.2 L860.4,67.2 L860.4,70.2 L860.4,73.2 L860.4,76.2 L860.4,79.2 L860.4,82.2 L860.4,85.1 L860.4,88.1 L860.4,91.1 L860.4,94.1 L860.4,97.1 L860.4,100.1 L860.4,103.1 L860.4,106.1 L860.3,109.1 L860.3,112.1 L860.2,115.1 L860.1,118.1 L860.0,121.1 L859.9,124.1 L859.8,127.1 L859.7,130.1 L859.5,133.1 L859.3,136.1 L859.1,139.1 L858.9,142.1 L858.6,145.1 L858.3,148.1 L858.0,151.1 L857.7,154.1 L857.3,157.1 L856.9,160.1 L856.4,163.1 L856.0,166.1 L855.5,169.1 L854.9,172.1 L854.4,175.1 L853.8,178.1 L853.2,181.0 L852.6,184.0 L852.0,187.0 L851.3,190.0 L850.6,193.0 L850.0,196.0 L849.3,199.0 L848.6,202.0 L847.9,205.0 L847.3,208.0 L846.6,211.0 L845.9,214.0 L845.2,217.0 L844.5,220.0 L843.9,223.0 L843.2,226.0 L842.6,229.0 L842.0,232.0 L841.4,235.0 L840.9,238.0 L840.3,241.0 L839.8,244.0 L839.4,247.0 L838.9,250.0 L838.5,253.0 L838.1,256.0 L837.8,259.0 L837.5,262.0 L837.3,265.0 L837.0,268.0 L836.8,271.0 L836.7,273.9 L836.6,276.9 L836.5,279.9 L836.4,282.9 L836.4,285.9 L836.5,288.9 L836.5,291.9 L836.7,294.9 L836.8,297.9 L837.0,300.9 L837.2,303.9 L837.5,306.9 L837.7,309.9 L838.1,312.9 L838.4,315.9 L838.8,318.9 L839.2,321.9 L839.6,324.9 L840.0,327.9 L840.5,330.9 L840.9,333.9 L841.4,336.9 L841.9,339.9 L842.4,342.9 L842.9,345.9 L843.4,348.9 L844.0,351.9 L844.5,354.9 L845.0,357.9 L845.6,360.9 L846.1,363.9 L846.6,366.9 L847.2,369.9 L847.7,372.8 L848.3,375.8 L848.8,378.8 L849.4,381.8 L849.9,384.8 L850.5,387.8 L851.0,390.8 L851.5,393.8 L852.1,396.8 L852.6,399.8 L853.2,402.8 L853.7,405.8 L854.2,408.8 L854.8,411.8 L855.3,414.8 L855.8,417.8 L856.4,420.8 L856.9,423.8 L857.4,426.8 L857.9,429.8 L858.4,432.8 L858.9,435.8 L859.4,438.8 L859.9,441.8 L860.4,444.8 L860.9,447.8 L861.3,450.8 L861.8,453.8 L862.2,456.8 L862.7,459.8 L863.1,462.8 L863.6,465.8 L864.0,468.7 L864.4,471.7 L864.8,474.7 L865.2,477.7 L865.6,480.7 L865.9,483.7 L866.3,486.7 L866.6,489.7 L867.0,492.7 L867.3,495.7 L867.6,498.7 L867.9,501.7 L868.2,504.7 L868.5,507.7 L868.7,510.7 L869.0,513.7 L919.0,513.7 L919.3,510.7 L919.5,507.7 L919.8,504.7 L920.1,501.7 L920.4,498.7 L920.7,495.7 L921.0,492.7 L921.4,489.7 L921.7,486.7 L922.1,483.7 L922.4,480.7 L922.8,477.7 L923.2,474.7 L923.6,471.7 L924.0,468.7 L924.4,465.8 L924.9,462.8 L925.3,459.8 L925.8,456.8 L926.2,453.8 L926.7,450.8 L927.1,447.8 L927.6,444.8 L928.1,441.8 L928.6,438.8 L929.1,435.8 L929.6,432.8 L930.1,429.8 L930.6,426.8 L931.1,423.8 L931.6,420.8 L932.2,417.8 L932.7,414.8 L933.2,411.8 L933.8,408.8 L934.3,405.8 L934.8,402.8 L935.4,399.8 L935.9,396.8 L936.5,393.8 L937.0,390.8 L937.5,387.8 L938.1,384.8 L938.6,381.8 L939.2,378.8 L939.7,375.8 L940.3,372.8 L940.8,369.9 L941.4,366.9 L941.9,363.9 L942.4,360.9 L943.0,357.9 L943.5,354.9 L944.0,351.9 L944.6,348.9 L945.1,345.9 L945.6,342.9 L946.1,339.9 L946.6,336.9 L947.1,333.9 L947.5,330.9 L948.0,327.9 L948.4,324.9 L948.8,321.9 L949.2,318.9 L949.6,315.9 L949.9,312.9 L950.3,309.9 L950.5,306.9 L950.8,303.9 L951.0,300.9 L951.2,297.9 L951.3,294.9 L951.5,291.9 L951.5,288.9 L951.6,285.9 L951.6,282.9 L951.5,279.9 L951.4,276.9 L951.3,273.9 L951.2,271.0 L951.0,268.0 L950.7,265.0 L950.5,262.0 L950.2,259.0 L949.9,256.0 L949.5,253.0 L949.1,250.0 L948.6,247.0 L948.2,244.0 L947.7,241.0 L947.1,238.0 L946.6,235.0 L946.0,232.0 L945.4,229.0 L944.8,226.0 L944.1,223.0 L943.5,220.0 L942.8,217.0 L942.1,214.0 L941.4,211.0 L940.7,208.0 L940.1,205.0 L939.4,202.0 L938.7,199.0 L938.0,196.0 L937.4,193.0 L936.7,190.0 L936.0,187.0 L935.4,184.0 L934.8,181.0 L934.2,178.1 L933.6,175.1 L933.1,172.1 L932.5,169.1 L932.0,166.1 L931.6,163.1 L931.1,160.1 L930.7,157.1 L930.3,154.1 L930.0,151.1 L929.7,148.1 L929.4,145.1 L929.1,142.1 L928.9,139.1 L928.7,136.1 L928.5,133.1 L928.3,130.1 L928.2,127.1 L928.1,124.1 L928.0,121.1 L927.9,118.1 L927.8,115.1 L927.7,112.1 L927.7,109.1 L927.6,106.1 L927.6,103.1 L927.6,100.1 L927.6,97.1 L927.6,94.1 L927.6,91.1 L927.6,88.1 L927.6,85.1 L927.6,82.2 L927.6,79.2 L927.6,76.2 L927.6,73.2 L927.6,70.2 L927.6,67.2 L927.6,64.2 L927.6,61.2 L927.6,58.2 L927.6,55.2 L927.5,52.2 L927.5,49.2 L927.4,46.2 L927.3,43.2 L927.2,40.2 L927.1,37.2 L926.9,34.2Z" fill="#A3A500" stroke="#222" stroke-width="1.25" stroke-linejoin="miter"/>
<g stroke="#000" stroke-width="1.3" fill="none">
<line x1="203.3" x2="203.3" y1="42.3" y2="116.1"/>
<line x1="203.3" x2="203.3" y1="299.2" y2="399.6"/>
<rect x="194.65" y="116.1" width="17.3" height="183.1" fill="#00B0F6"/>
<line x1="194.65" x2="211.95" y1="198.5" y2="198.5" stroke-width="2.6"/>
</g>
<circle cx="203.3" cy="208.8" r="3.8" fill="#000"/>
<g stroke="#000" stroke-width="1.3" fill="none">
<line x1="376" x2="376" y1="45.2" y2="61.6"/>
<line x1="376" x2="376" y1="325.4" y2="607"/>
<rect x="367.35" y="61.6" width="17.3" height="263.8" fill="#F8766D"/>
<line x1="367.35" x2="384.65" y1="290.9" y2="290.9" stroke-width="2.6"/>
</g>
<circle cx="376" cy="252.9" r="3.8" fill="#000"/>
<g stroke="#000" stroke-width="1.3" fill="none">
<line x1="548.5" x2="548.5" y1="52.7" y2="165.8"/>
<line x1="548.5" x2="548.5" y1="357.3" y2="508.7"/>
<rect x="539.85" y="165.8" width="17.3" height="191.5" fill="#E76BF3"/>
<line x1="539.85" x2="557.15" y1="325.2" y2="325.2" stroke-width="2.6"/>
</g>
<circle cx="548.5" cy="278" r="3.8" fill="#000"/>
<g stroke="#000" stroke-width="1.3" fill="none">
<line x1="721.3" x2="721.3" y1="35.3" y2="161.6"/>
<line x1="721.3" x2="721.3" y1="298.9" y2="422"/>
<rect x="712.65" y="161.6" width="17.3" height="137.3" fill="#00BF7D"/>
<line x1="712.65" x2="729.95" y1="237.6" y2="237.6" stroke-width="2.6"/>
</g>
<circle cx="721.3" cy="228" r="3.8" fill="#000"/>
<g stroke="#000" stroke-width="1.3" fill="none">
<line x1="894" x2="894" y1="34.2" y2="159"/>
<line x1="894" x2="894" y1="346.6" y2="513.7"/>
<rect x="885.35" y="159" width="17.3" height="187.6" fill="#A3A500"/>
<line x1="885.35" x2="902.65" y1="276.5" y2="276.5" stroke-width="2.6"/>
</g>
<circle cx="894" cy="260.1" r="3.8" fill="#000"/>
<line x1="100" x2="997" y1="198.5" y2="198.5" stroke="#4f2e2e" stroke-width="1.7" stroke-dasharray="5.8 5.6864" stroke-dashoffset="-0.1"/>
<line x1="95.8" x2="100" y1="132.50" y2="132.50" stroke="#333" stroke-width="1.5"/>
<text x="80.9" y="142.20" font-size="24.7" font-weight="bold" text-anchor="end">0.8</text>
<line x1="95.8" x2="100" y1="266.00" y2="266.00" stroke="#333" stroke-width="1.5"/>
<text x="80.9" y="275.70" font-size="24.7" font-weight="bold" text-anchor="end">0.7</text>
<line x1="95.8" x2="100" y1="399.50" y2="399.50" stroke="#333" stroke-width="1.5"/>
<text x="80.9" y="409.20" font-size="24.7" font-weight="bold" text-anchor="end">0.6</text>
<line x1="95.8" x2="100" y1="533.00" y2="533.00" stroke="#333" stroke-width="1.5"/>
<text x="80.9" y="542.70" font-size="24.7" font-weight="bold" text-anchor="end">0.5</text>
<line x1="203.3" x2="203.3" y1="635.5" y2="639.7" stroke="#333" stroke-width="1.5"/>
<text x="203.3" y="657.5" font-size="20.2" font-weight="bold" text-anchor="middle">MAGPEL (Proposed)</text>
<line x1="376" x2="376" y1="635.5" y2="639.7" stroke="#333" stroke-width="1.5"/>
<text x="376" y="657.5" font-size="20.2" font-weight="bold" text-anchor="middle">Clinvar</text>
<line x1="548.5" x2="548.5" y1="635.5" y2="639.7" stroke="#333" stroke-width="1.5"/>
<text x="548.5" y="657.5" font-size="20.2" font-weight="bold" text-anchor="middle">Singhal et al.</text>
<line x1="721.3" x2="721.3" y1="635.5" y2="639.7" stroke="#333" stroke-width="1.5"/>
<text x="721.3" y="657.5" font-size="20.2" font-weight="bold" text-anchor="middle">Mastermind</text>
<line x1="894" x2="894" y1="635.5" y2="639.7" stroke="#333" stroke-width="1.5"/>
<text x="894" y="657.5" font-size="20.2" font-weight="bold" text-anchor="middle">DEGs</text>
<text transform="translate(25,321.9) rotate(-90)" font-size="24.5" font-weight="bold" text-anchor="middle">AUC</text>
<text x="241.2" y="735.7" font-size="14.85">Number of genes</text>
<rect x="363.8" y="701.3" width="56.5" height="56.5" fill="#00B0F6" stroke="#333" stroke-width="1.1"/>
<g stroke="#000" stroke-width="1.3" fill="none">
<line x1="392.05" x2="392.05" y1="706.2" y2="715.2"/>
<line x1="392.05" x2="392.05" y1="743.5" y2="752.8"/>
<rect x="370.45" y="715.2" width="43.2" height="28.3"/>
<line x1="370.45" x2="413.65" y1="729.3" y2="729.3"/>
</g>
<circle cx="392.05" cy="729.3" r="3.7" fill="#000"/>
<text x="428" y="737.7" font-size="20">229</text>
<rect x="470.6" y="701.3" width="56.5" height="56.5" fill="#F8766D" stroke="#333" stroke-width="1.1"/>
<g stroke="#000" stroke-width="1.3" fill="none">
<line x1="498.85" x2="498.85" y1="706.2" y2="715.2"/>
<line x1="498.85" x2="498.85" y1="743.5" y2="752.8"/>
<rect x="477.25" y="715.2" width="43.2" height="28.3"/>
<line x1="477.25" x2="520.45" y1="729.3" y2="729.3"/>
</g>
<circle cx="498.85" cy="729.3" r="3.7" fill="#000"/>
<text x="535" y="737.7" font-size="20">53</text>
<rect x="566" y="701.3" width="56.5" height="56.5" fill="#E76BF3" stroke="#333" stroke-width="1.1"/>
<g stroke="#000" stroke-width="1.3" fill="none">
<line x1="594.25" x2="594.25" y1="706.2" y2="715.2"/>
<line x1="594.25" x2="594.25" y1="743.5" y2="752.8"/>
<rect x="572.65" y="715.2" width="43.2" height="28.3"/>
<line x1="572.65" x2="615.85" y1="729.3" y2="729.3"/>
</g>
<circle cx="594.25" cy="729.3" r="3.7" fill="#000"/>
<text x="630.6" y="737.7" font-size="20">76</text>
<rect x="661.6" y="701.3" width="56.5" height="56.5" fill="#00BF7D" stroke="#333" stroke-width="1.1"/>
<g stroke="#000" stroke-width="1.3" fill="none">
<line x1="689.85" x2="689.85" y1="706.2" y2="715.2"/>
<line x1="689.85" x2="689.85" y1="743.5" y2="752.8"/>
<rect x="668.25" y="715.2" width="43.2" height="28.3"/>
<line x1="668.25" x2="711.45" y1="729.3" y2="729.3"/>
</g>
<circle cx="689.85" cy="729.3" r="3.7" fill="#000"/>
<text x="725.8" y="737.7" font-size="20">313</text>
<rect x="768.3" y="701.3" width="56.5" height="56.5" fill="#A3A500" stroke="#333" stroke-width="1.1"/>
<g stroke="#000" stroke-width="1.3" fill="none">
<line x1="796.55" x2="796.55" y1="706.2" y2="715.2"/>
<line x1="796.55" x2="796.55" y1="743.5" y2="752.8"/>
<rect x="774.95" y="715.2" width="43.2" height="28.3"/>
<line x1="774.95" x2="818.15" y1="729.3" y2="729.3"/>
</g>
<circle cx="796.55" cy="729.3" r="3.7" fill="#000"/>
<text x="831.6" y="737.7" font-size="20">47</text>
</svg></body></html>
